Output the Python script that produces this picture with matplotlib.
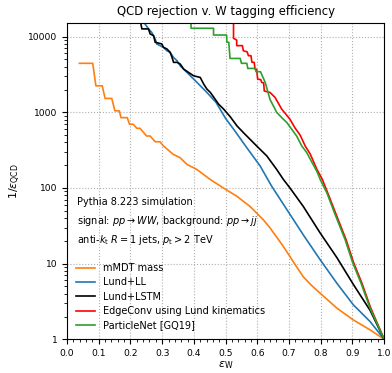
import matplotlib
matplotlib.use("Agg")
import matplotlib.pyplot as plt
from matplotlib.ticker import MultipleLocator, LogLocator, NullFormatter, FixedLocator, FixedFormatter

# W efficiency / inverse QCD efficiency for each tagger
mmdt_eff = [0.039, 0.081, 0.091, 0.111, 0.120, 0.141, 0.151, 0.165, 0.170, 0.190,
            0.197, 0.209, 0.220, 0.230, 0.251, 0.262, 0.278, 0.293, 0.304, 0.335,
            0.356, 0.378, 0.409, 0.451, 0.493, 0.535, 0.577, 0.619, 0.640, 0.682,
            0.703, 0.720, 0.745, 0.770, 0.798, 0.851, 0.903, 0.956, 1.0]
mmdt_rej = [4440, 4440, 2240, 2240, 1525, 1525, 1045, 1045, 850, 850,
            695, 695, 615, 615, 486, 486, 408, 408, 359, 278,
            252, 205, 176, 130, 100, 78, 57, 38, 29.7, 16.9,
            12.4, 9.6, 6.7, 5.2, 4.07, 2.58, 1.80, 1.33, 1.0]

lundll_eff = [0.222, 0.246, 0.257, 0.267, 0.278, 0.283, 0.304, 0.315, 0.325, 0.336,
              0.347, 0.357, 0.378, 0.410, 0.441, 0.470, 0.500, 0.525, 0.567, 0.609,
              0.645, 0.693, 0.745, 0.798, 0.851, 0.903, 0.956, 1.0]
lundll_rej = [17000, 14700, 12650, 11400, 9300, 8000, 7200, 6500, 6200, 5300,
              4800, 4100, 3370, 2480, 1830, 1350, 830, 600, 340, 195,
              106, 52, 24, 11.3, 5.5, 2.85, 1.71, 1.0]

lstm_eff = [0.230, 0.236, 0.257, 0.262, 0.273, 0.278, 0.299, 0.304, 0.315, 0.325,
            0.331, 0.336, 0.347, 0.357, 0.368, 0.383, 0.399, 0.420, 0.431, 0.441,
            0.452, 0.467, 0.478, 0.494, 0.515, 0.536, 0.556, 0.598, 0.630, 0.661,
            0.682, 0.703, 0.745, 0.798, 0.851, 0.903, 0.956, 1.0]
lstm_rej = [17200, 12650, 12650, 10860, 10300, 8430, 8000, 7230, 6870, 6210,
            5330, 4570, 4570, 4340, 3720, 3370, 3040, 2890, 2360, 2030,
            1830, 1490, 1280, 1100, 870, 660, 540, 359, 265, 176,
            130, 100, 57, 25.5, 12.0, 5.3, 2.4, 1.0]

edge_eff = [0.525, 0.525, 0.535, 0.535, 0.553, 0.556, 0.568, 0.572, 0.580, 0.583,
            0.590, 0.593, 0.598, 0.601, 0.611, 0.614, 0.620, 0.622, 0.640, 0.656,
            0.677, 0.703, 0.719, 0.735, 0.751, 0.767, 0.788, 0.805, 0.825, 0.851,
            0.880, 0.903, 0.930, 0.956, 1.0]
edge_rej = [17000, 9500, 9000, 7600, 7600, 6500, 6300, 5600, 5600, 4580,
            4580, 3730, 3700, 2750, 2700, 2480, 2450, 1910, 1830, 1570,
            1100, 810, 620, 500, 359, 280, 176, 130, 80, 42,
            20.7, 10.5, 5.5, 2.7, 1.0]

pnet_eff = [0.391, 0.391, 0.462, 0.462, 0.503, 0.504, 0.510, 0.514, 0.546, 0.550,
            0.567, 0.570, 0.593, 0.596, 0.610, 0.625, 0.640, 0.661, 0.677, 0.693,
            0.724, 0.740, 0.756, 0.767, 0.788, 0.800, 0.820, 0.845, 0.877, 0.900,
            0.928, 0.955, 1.0]
pnet_rej = [17000, 12900, 12900, 10500, 10500, 8430, 8430, 5150, 5150, 4440,
            4440, 3800, 3800, 3440, 3440, 2480, 1480, 1000, 850, 733,
            486, 360, 293, 240, 165, 125, 85, 45, 20.7, 10.5,
            5.4, 2.6, 1.0]

curves = [
    (mmdt_eff, mmdt_rej, "#ff7f0e", "mMDT mass"),
    (lundll_eff, lundll_rej, "#1f77b4", "Lund+LL"),
    (lstm_eff, lstm_rej, "black", "Lund+LSTM"),
    (edge_eff, edge_rej, "red", "EdgeConv using Lund kinematics"),
    (pnet_eff, pnet_rej, "#2ca02c", "ParticleNet [GQ19]"),
]

ytick_vals = [1, 10, 100, 1000, 10000]
ytick_labels = ["1", "10", "100", "1000", "10000"]

fig = plt.figure(figsize=(3.92, 3.73), dpi=100)
ax = fig.add_axes([0.171, 0.0903, 0.809, 0.8472])

for eff, rej, col, lab in curves:
    ax.plot(eff, rej, color=col, linewidth=1.2, label=lab)

ax.set_yscale("log")
ax.set_xlim(0, 1)
ax.set_ylim(1, 15000)
ax.xaxis.set_major_locator(MultipleLocator(0.1))
ax.xaxis.set_minor_locator(MultipleLocator(0.02))
ax.yaxis.set_major_locator(FixedLocator(ytick_vals))
ax.yaxis.set_major_formatter(FixedFormatter(ytick_labels))
ax.yaxis.set_minor_locator(LogLocator(base=10, subs=range(2, 10)))
ax.yaxis.set_minor_formatter(NullFormatter())
ax.tick_params(labelsize=6.6, width=0.8, length=3.5)
ax.tick_params(which="minor", width=0.6, length=2)
ax.grid(True, which="major", linestyle=":", color="#b0b0b0", linewidth=0.8)

ax.set_title("QCD rejection v. W tagging efficiency", fontsize=8.4)
ax.set_xlabel(r"$\varepsilon_\mathrm{W}$", fontsize=8, labelpad=1)
ax.set_ylabel(r"$1/\varepsilon_\mathrm{QCD}$", fontsize=8)

ax.text(0.031, 0.435, "Pythia 8.223 simulation", transform=ax.transAxes,
        fontsize=7, va="center")
ax.text(0.031, 0.374, r"signal: $pp \to WW$, background: $pp \to jj$",
        transform=ax.transAxes, fontsize=7, va="center")
ax.text(0.031, 0.314, r"anti-$k_\mathrm{t}$ $R = 1$ jets, $p_\mathrm{t} > 2$ TeV",
        transform=ax.transAxes, fontsize=7, va="center")

ax.legend(loc="lower left", frameon=False, fontsize=7, labelspacing=0.45)

fig.savefig("out.png", dpi=100)
